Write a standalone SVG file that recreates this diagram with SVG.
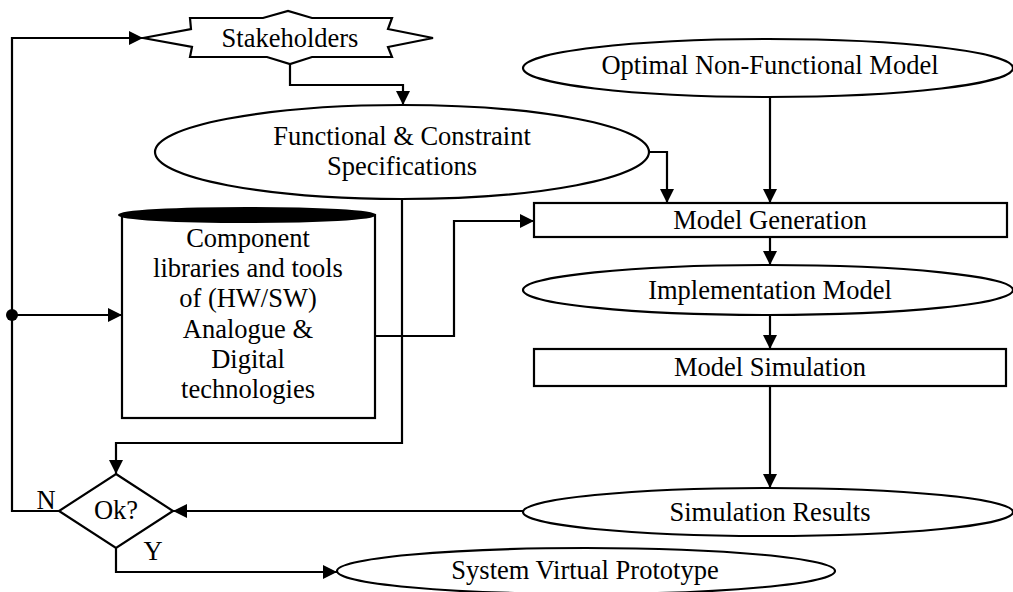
<svg xmlns="http://www.w3.org/2000/svg" width="1013" height="592" viewBox="0 0 1013 592">
  <defs>
    <marker id="arrow" viewBox="0 0 14 14" refX="14" refY="7" markerWidth="14" markerHeight="14" markerUnits="userSpaceOnUse" orient="auto">
      <path d="M0,0 L14,7 L0,14 Z" fill="#000"/>
    </marker>
    <style>
      .shape { fill: #fff; stroke: #000; stroke-width: 2.2; }
      .cap { fill: #000; stroke: #000; stroke-width: 2; }
      .wire { fill: none; stroke: #000; stroke-width: 2.2; }
      .arrow { marker-end: url(#arrow); }
      text { font-family: "Liberation Serif", "Times New Roman", serif; font-size: 26.5px; fill: #000; text-anchor: middle; }
    </style>
  </defs>
  <rect width="1013" height="592" fill="#fff"/>

  <!-- connectors -->
  <g id="connectors">
    <polyline class="wire arrow" points="59,511 12,511 12,38 143,38"/>
    <line class="wire arrow" x1="12" y1="315" x2="122" y2="315"/>
    <circle cx="12" cy="315" r="6" fill="#000"/>
    <polyline class="wire arrow" points="290,64 290,85 403,85 403,105"/>
    <polyline class="wire arrow" points="650,152 667,152 667,203"/>
    <line class="wire arrow" x1="770" y1="97" x2="770" y2="203"/>
    <polyline class="wire arrow" points="375,336 454,336 454,221 534,221"/>
    <line class="wire arrow" x1="770" y1="237" x2="770" y2="265"/>
    <line class="wire arrow" x1="770" y1="315" x2="770" y2="349"/>
    <line class="wire arrow" x1="770" y1="386" x2="770" y2="488"/>
    <polyline class="wire arrow" points="402,200 402,443 116,443 116,474"/>
    <line class="wire arrow" x1="523" y1="511" x2="173" y2="511"/>
    <polyline class="wire arrow" points="116,548 116,572 337,572"/>
  </g>

  <g id="stakeholders">
    <polygon class="shape" points="143,38 191,29 190,18 263,18 288,11 312,18 392,18 388,29 433,38 388,47 392,57 312,57 290,64 267,57 190,57 192,47"/>
    <text x="290" y="47">Stakeholders</text>
  </g>

  <g id="specifications">
    <ellipse class="shape" cx="402" cy="152" rx="247" ry="47"/>
    <text x="402" y="145">Functional &amp; Constraint</text>
    <text x="402" y="175">Specifications</text>
  </g>

  <g id="component-libraries">
    <rect class="shape" x="122" y="215" width="253" height="203"/>
    <ellipse class="cap" cx="247" cy="215" rx="128" ry="7"/>
    <text x="248" y="247">Component</text>
    <text x="248" y="277">libraries and tools</text>
    <text x="248" y="307">of (HW/SW)</text>
    <text x="248" y="338">Analogue &amp;</text>
    <text x="248" y="368">Digital</text>
    <text x="248" y="398">technologies</text>
  </g>

  <g id="optimal-model">
    <ellipse class="shape" cx="768" cy="68" rx="245" ry="29"/>
    <text x="770" y="74">Optimal Non-Functional Model</text>
  </g>

  <g id="model-generation">
    <rect class="shape" x="534" y="203" width="473" height="34"/>
    <text x="770" y="229">Model Generation</text>
  </g>

  <g id="implementation-model">
    <ellipse class="shape" cx="768" cy="290" rx="245" ry="25"/>
    <text x="770" y="299">Implementation Model</text>
  </g>

  <g id="model-simulation">
    <rect class="shape" x="534" y="349" width="472" height="37"/>
    <text x="770" y="376">Model Simulation</text>
  </g>

  <g id="simulation-results">
    <ellipse class="shape" cx="768" cy="512" rx="245" ry="24"/>
    <text x="770" y="521">Simulation Results</text>
  </g>

  <g id="decision">
    <polygon class="shape" points="116,474 173,511 116,548 59,511"/>
    <text x="116" y="519">Ok?</text>
    <text x="46" y="509">N</text>
    <text x="153" y="560">Y</text>
  </g>

  <g id="virtual-prototype">
    <ellipse class="shape" cx="586" cy="571" rx="249" ry="23"/>
    <text x="585" y="579">System Virtual Prototype</text>
  </g>
</svg>
